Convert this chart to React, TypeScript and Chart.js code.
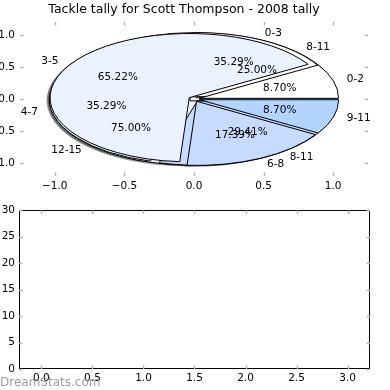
import React, { useEffect, useRef } from "react";
import { Chart, registerables } from "chart.js";

Chart.register(...registerables);

const titleText = "Tackle tally for Scott Thompson - 2008 tally";
const watermarkText = "DreamStats.com";

// Pie A (top-most)
const pieALabels = ["0-2", "3-5", "6-8", "9-11"];
const pieAValues = [2, 15, 4, 2];
// Pie B
const pieBLabels = ["0-3", "4-7", "8-11"];
const pieBValues = [6, 6, 5];
// Pie C (bottom-most)
const pieCLabels = ["8-11", "12-15"];
const pieCValues = [1, 3];

const pieColors = ["#ffffff", "#ebf2ff", "#c7daff", "#b3d4ff"];

// Axis ticks
const topTicks = [-1.0, -0.5, 0.0, 0.5, 1.0];
const bottomXTicks = [0, 0.5, 1.0, 1.5, 2.0, 2.5, 3.0];
const bottomYTicks = [0, 5, 10, 15, 20, 25, 30];
const bottomValues: number[] = [];

const FONT = "DejaVu Sans";
const EXPLODE = 0.04;
const SHADOW = -0.02;

function fmt1(v: any) {
  const n = Number(v);
  const s = Math.abs(n).toFixed(1);
  return n < -1e-9 ? "\u2212" + s : s;
}

function shadowColor(hex: string) {
  const r = parseInt(hex.slice(1, 3), 16) * 0.3;
  const g = parseInt(hex.slice(3, 5), 16) * 0.3;
  const b = parseInt(hex.slice(5, 7), 16) * 0.3;
  return `rgba(${r},${g},${b},0.5)`;
}

const piePlugin = {
  id: "pies",
  afterDatasetsDraw(chart: any) {
    const ctx = chart.ctx;
    const xs = chart.scales.x;
    const ys = chart.scales.y;
    const rx = xs.getPixelForValue(1) - xs.getPixelForValue(0);
    const ry = ys.getPixelForValue(0) - ys.getPixelForValue(1);
    const pies = [
      { labels: pieCLabels, values: pieCValues },
      { labels: pieBLabels, values: pieBValues },
      { labels: pieALabels, values: pieAValues },
    ];
    const wedges: any[][] = pies.map((p) => {
      const total = p.values.reduce((a, b) => a + b, 0);
      let acc = 0;
      return p.values.map((v, i) => {
        const t1 = (acc / total) * 360;
        acc += v;
        const t2 = (acc / total) * 360;
        const tm = ((t1 + t2) / 2) * Math.PI / 180;
        const cx = EXPLODE * Math.cos(tm);
        const cy = EXPLODE * Math.sin(tm);
        return {
          t1, t2, tm, cx, cy,
          color: pieColors[i % pieColors.length],
          label: p.labels[i],
          pct: ((v / total) * 100).toFixed(2) + "%",
        };
      });
    });
    const path = (w: any, dx: number, dy: number) => {
      const px = xs.getPixelForValue(w.cx + dx);
      const py = ys.getPixelForValue(w.cy + dy);
      ctx.beginPath();
      ctx.moveTo(px, py);
      ctx.ellipse(px, py, rx, ry, 0, -w.t1 * Math.PI / 180, -w.t2 * Math.PI / 180, true);
      ctx.closePath();
    };
    ctx.save();
    wedges.forEach((ws) =>
      ws.forEach((w) => {
        path(w, SHADOW, SHADOW);
        ctx.fillStyle = shadowColor(w.color);
        ctx.fill();
      })
    );
    wedges.forEach((ws) =>
      ws.forEach((w) => {
        path(w, 0, 0);
        ctx.fillStyle = w.color;
        ctx.fill();
        ctx.lineWidth = 1;
        ctx.strokeStyle = "#000";
        ctx.stroke();
      })
    );
    ctx.fillStyle = "#000";
    ctx.font = `10.5px "${FONT}"`;
    ctx.textBaseline = "middle";
    wedges.forEach((ws) =>
      ws.forEach((w) => {
        const lx = w.cx + 1.1 * Math.cos(w.tm);
        const ly = w.cy + 1.1 * Math.sin(w.tm);
        ctx.textAlign = lx > 0 ? "left" : "right";
        ctx.fillText(w.label, xs.getPixelForValue(lx), ys.getPixelForValue(ly));
        const qx = w.cx + 0.6 * Math.cos(w.tm);
        const qy = w.cy + 0.6 * Math.sin(w.tm);
        ctx.textAlign = "center";
        ctx.fillText(w.pct, xs.getPixelForValue(qx), ys.getPixelForValue(qy));
      })
    );
    ctx.restore();
  },
};

const tickMarks = {
  id: "tickMarks",
  afterDraw(chart: any, _args: any, opts: any) {
    const { ctx, chartArea: a, scales } = chart;
    ctx.save();
    if (opts && opts.frame) {
      ctx.strokeStyle = "#000";
      ctx.lineWidth = 1;
      ctx.strokeRect(Math.round(a.left) + 0.5, Math.round(a.top) + 0.5, Math.round(a.right - a.left) - 1, Math.round(a.bottom - a.top) - 1);
    }
    ctx.strokeStyle = "#b4b4b4";
    ctx.lineWidth = 1.5;
    const L = 3.5;
    const line = (x1: number, y1: number, x2: number, y2: number) => {
      ctx.beginPath();
      ctx.moveTo(x1, y1);
      ctx.lineTo(x2, y2);
      ctx.stroke();
    };
    scales.x.ticks.forEach((t: any) => {
      const px = Math.round(scales.x.getPixelForValue(t.value)) + 0.5;
      line(px, a.top, px, a.top + L);
      line(px, a.bottom, px, a.bottom - L);
    });
    scales.y.ticks.forEach((t: any) => {
      const py = Math.round(scales.y.getPixelForValue(t.value)) + 0.5;
      line(a.left, py, a.left + L, py);
      line(a.right, py, a.right - L, py);
    });
    if (opts && opts.watermark) {
      ctx.fillStyle = "rgba(140,140,140,0.85)";
      ctx.font = `12px "${FONT}"`;
      ctx.textAlign = "left";
      ctx.textBaseline = "middle";
      ctx.fillText(opts.watermark, 0, chart.height - 7);
    }
    ctx.restore();
  },
};

export default function App() {
  const topRef = useRef<HTMLCanvasElement>(null);
  const botRef = useRef<HTMLCanvasElement>(null);

  useEffect(() => {
    Chart.defaults.font.family = FONT;
    const tickFont = { family: FONT, size: 10.5 };
    const top = new Chart(topRef.current as HTMLCanvasElement, {
      type: "scatter",
      data: { datasets: [{ data: [] }] },
      plugins: [piePlugin, tickMarks],
      options: {
        animation: false,
        responsive: false,
        devicePixelRatio: 1,
        layout: { padding: { left: 0, right: 22, top: 0, bottom: 0 } },
        plugins: {
          legend: { display: false },
          tooltip: { enabled: false },
          title: {
            display: true,
            text: titleText,
            color: "#000",
            font: { family: FONT, size: 12.5, weight: "normal" },
            padding: { top: 2.5, bottom: 4.5 },
          },
          tickMarks: {},
        } as any,
        scales: {
          x: {
            type: "linear",
            min: -1.25,
            max: 1.25,
            grid: { display: false, drawTicks: false },
            border: { display: false },
            afterBuildTicks: (s: any) => { s.ticks = topTicks.map((v) => ({ value: v })); },
            afterFit: (s: any) => { s.height = 24; },
            ticks: { callback: fmt1, color: "#000", font: tickFont, padding: 4, maxRotation: 0 },
          },
          y: {
            type: "linear",
            min: -1.2,
            max: 1.2,
            grid: { display: false, drawTicks: false },
            border: { display: false },
            afterBuildTicks: (s: any) => { s.ticks = topTicks.map((v) => ({ value: v })); },
            afterFit: (s: any) => { s.width = 20; },
            ticks: { callback: fmt1, color: "#000", font: tickFont, padding: 5 },
          },
        },
      } as any,
    });
    const bot = new Chart(botRef.current as HTMLCanvasElement, {
      type: "bar",
      data: {
        labels: bottomValues.map((_, i) => i),
        datasets: [{ data: bottomValues, backgroundColor: "#b3d4ff" }],
      },
      plugins: [tickMarks],
      options: {
        animation: false,
        responsive: false,
        devicePixelRatio: 1,
        layout: { padding: { left: 0, right: 20, top: 10, bottom: 0 } },
        plugins: {
          legend: { display: false },
          tooltip: { enabled: false },
          tickMarks: { frame: true, watermark: watermarkText },
        } as any,
        scales: {
          x: {
            type: "linear",
            offset: false,
            min: -0.22,
            max: 3.22,
            grid: { display: false, drawTicks: false, offset: false },
            border: { display: false },
            afterBuildTicks: (s: any) => { s.ticks = bottomXTicks.map((v) => ({ value: v })); },
            afterFit: (s: any) => { s.height = 21; },
            ticks: { callback: fmt1, color: "#000", font: tickFont, padding: 3, maxRotation: 0 },
          },
          y: {
            type: "linear",
            min: 0,
            max: 30,
            grid: { display: false, drawTicks: false },
            border: { display: false },
            afterBuildTicks: (s: any) => { s.ticks = bottomYTicks.map((v) => ({ value: v })); },
            afterFit: (s: any) => { s.width = 19; },
            ticks: { callback: (v: any) => String(v), color: "#000", font: tickFont, padding: 4 },
          },
        },
      } as any,
    });
    return () => {
      top.destroy();
      bot.destroy();
    };
  }, []);

  return (
    <div style={{ position: "fixed", left: 0, top: 0, width: 390, height: 390, background: "#fff" }}>
      <canvas ref={topRef} width={390} height={200} style={{ position: "absolute", left: 0, top: 0 }} />
      <canvas ref={botRef} width={390} height={190} style={{ position: "absolute", left: 0, top: 200 }} />
    </div>
  );
}
